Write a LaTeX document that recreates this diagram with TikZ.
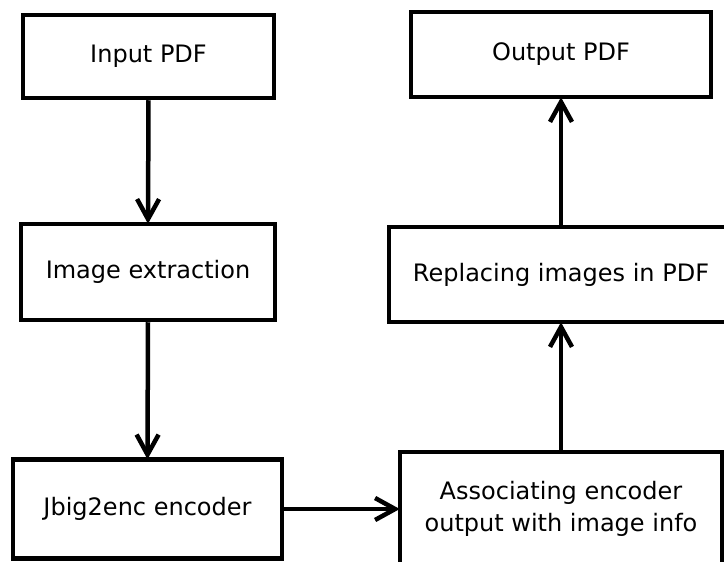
\documentclass[tikz,border=0pt]{standalone}
\usepackage{fontspec}
\setmainfont{DejaVu Sans}
\usetikzlibrary{arrows.meta}
\begin{document}
\begin{tikzpicture}[x=1pt,y=-1pt,
  box/.style={draw=black, line width=4.5pt, rectangle, inner sep=0pt, fill=white,
    font=\fontsize{24}{32}\selectfont, align=center},
  conn/.style={line width=4.5pt, shorten >=-2pt, -{Straight Barb[length=20pt,width=22pt,line width=4.5pt]}}]
\useasboundingbox (0,0) rectangle (724,562);
\clip (0,0) rectangle (724,562);
\node[box, minimum width=251pt, minimum height=83pt] (in) at (148.5,56.5) {Input PDF};
\node[box, minimum width=254pt, minimum height=96pt] (ext) at (148,272) {Image extraction};
\node[box, minimum width=269pt, minimum height=99pt] (jb) at (147.5,509) {Jbig2enc encoder};
\node[box, minimum width=322pt, minimum height=114pt] (as) at (561,509) {Associating encoder\\output with image info};
\node[box, minimum width=344pt, minimum height=95pt] (rep) at (561,274.5) {Replacing images in PDF};
\node[box, minimum width=300pt, minimum height=85pt] (out) at (561,54.5) {Output PDF};
\draw[conn] (in.south) -- (ext.north);
\draw[conn] (ext.south) -- (jb.north);
\draw[conn] (jb.east) -- (as.west);
\draw[conn] (as.north) -- (rep.south);
\draw[conn] (rep.north) -- (out.south);
\end{tikzpicture}
\end{document}
